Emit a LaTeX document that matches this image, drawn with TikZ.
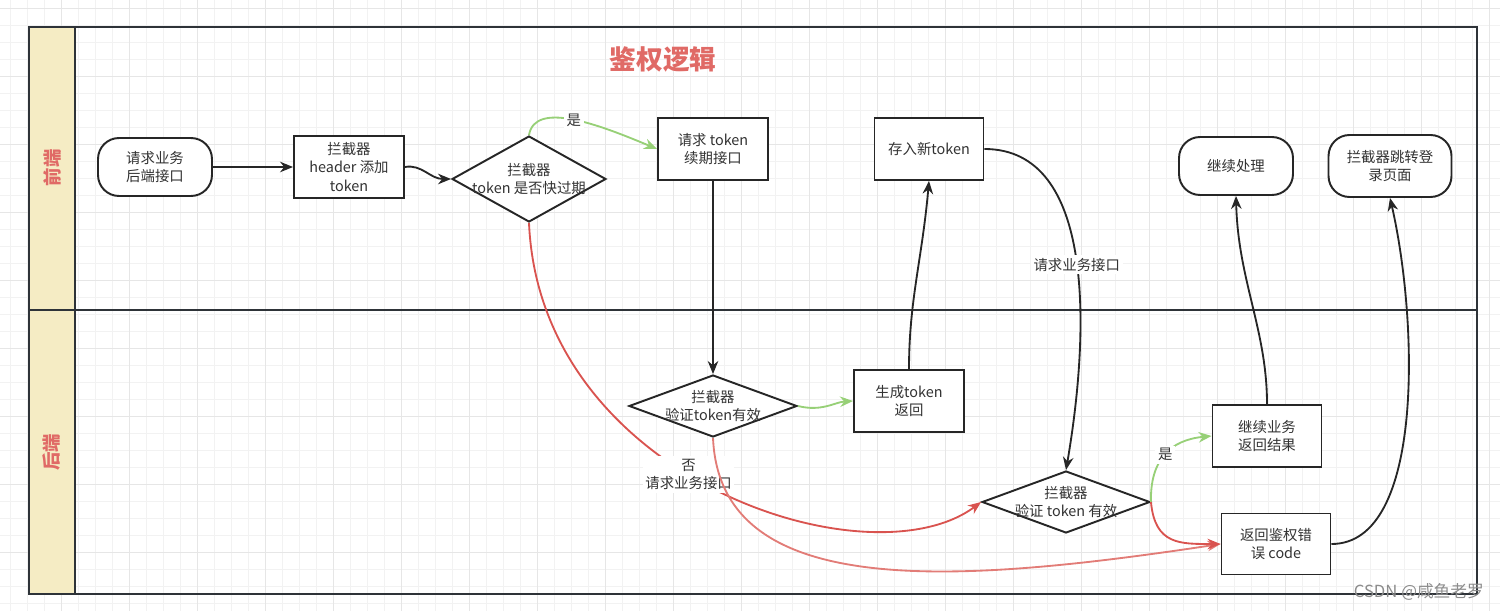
\documentclass[tikz,border=0pt]{standalone}
\usepackage{fontspec}
\setmainfont{Noto Sans CJK SC}
\usetikzlibrary{shapes.geometric,arrows.meta}
\definecolor{gridminor}{HTML}{F2F2F2}
\definecolor{gridmajor}{HTML}{E6E6E6}
\definecolor{laneline}{HTML}{2E3338}
\definecolor{lanefill}{HTML}{F5ECC4}
\definecolor{titlered}{HTML}{E06A66}
\definecolor{okgreen}{HTML}{97D077}
\definecolor{nored}{HTML}{D9534F}
\definecolor{errred}{HTML}{E27C77}
\definecolor{inktext}{HTML}{333333}
\begin{document}
\begin{tikzpicture}[x=0.02cm, y=-0.02cm,
  every node/.style={font=\fontsize{8.2}{10.6}\selectfont, text=inktext},
  procbox/.style={draw=black!85, line width=1.1pt, fill=white, align=center, inner sep=0pt},
  termbox/.style={procbox, rounded corners=0.42cm},
  decision/.style={diamond, draw=black!85, line width=1.1pt, fill=white, inner sep=0pt},
  dtext/.style={align=center, text=inktext},
  flow/.style={line width=1.05pt, draw=black!85, -{Stealth[length=2.6mm,width=2.1mm]}},
  edgelabel/.style={fill=white, inner sep=1.5pt, align=center}]
\useasboundingbox (0,0) rectangle (1500,611);
\foreach \gx in {0,...,88} \draw[gridminor, line width=0.5pt] ({10+17*\gx},0) -- ({10+17*\gx},611);
\foreach \gy in {0,...,35} \draw[gridminor, line width=0.5pt] (0,{8+17*\gy}) -- (1500,{8+17*\gy});
\foreach \gx in {1,...,22} \draw[gridmajor, line width=0.5pt] ({-7+68*\gx},0) -- ({-7+68*\gx},611);
\foreach \gy in {0,...,8} \draw[gridmajor, line width=0.5pt] (0,{8+68*\gy}) -- (1500,{8+68*\gy});

\filldraw[fill=lanefill, draw=laneline, line width=1.1pt] (29,27) rectangle (75,594);
\draw[laneline, line width=1.1pt] (29,27) rectangle (1477,594);
\draw[laneline, line width=1.1pt] (29,310) -- (1477,310);
\node[rotate=90, font=\fontsize{10.5}{12}\selectfont\bfseries, text=titlered] (front) at (52,168) {前端};
\node[rotate=90, font=\fontsize{10.5}{12}\selectfont\bfseries, text=titlered] (back) at (52,452) {后端};
\node[font=\fontsize{15.2}{18}\selectfont\bfseries, text=titlered] (title) at (663,59) {鉴权逻辑};

\node[termbox, minimum width=2.28cm, minimum height=1.16cm] (req) at (155,167) {请求业务\\后端接口};
\node[procbox, minimum width=2.2cm, minimum height=1.24cm] (addhdr) at (349,167) {拦截器\\header 添加\\token};
\node[decision, minimum width=3.08cm, minimum height=1.72cm, label={[dtext]center:{拦截器\\token 是否快过期}}] (chkexp) at (529,179) {};
\node[procbox, minimum width=2.2cm, minimum height=1.24cm] (renew) at (713,149) {请求 token\\续期接口};
\node[procbox, minimum width=2.18cm, minimum height=1.24cm] (store) at (929,149) {存入新token};
\node[termbox, minimum width=2.28cm, minimum height=1.16cm] (cont) at (1236,166) {继续处理};
\node[termbox, minimum width=2.46cm, minimum height=1.24cm] (login) at (1390,166) {拦截器跳转登\\录页面};
\node[decision, minimum width=3.36cm, minimum height=1.24cm, label={[dtext]center:{拦截器\\验证token有效}}] (verify1) at (713,406) {};
\node[procbox, minimum width=2.2cm, minimum height=1.24cm] (gen) at (909,401) {生成token\\返回};
\node[decision, minimum width=3.36cm, minimum height=1.24cm, label={[dtext]center:{拦截器\\验证 token 有效}}] (verify2) at (1066,502) {};
\node[procbox, minimum width=2.18cm, minimum height=1.24cm] (biz) at (1267,436) {继续业务\\返回结果};
\node[procbox, minimum width=2.18cm, minimum height=1.22cm] (err) at (1276,544) {返回鉴权错\\误 code};

\draw[flow] (req.east) -- (addhdr.west);
\draw[flow] (addhdr.east) .. controls (422,164) and (430,179) .. (chkexp.west);
\draw[flow, draw=okgreen, okgreen] (chkexp.north) .. controls (535,100) and (600,125) .. (renew.west) node[edgelabel, pos=0.5] {是};
\draw[flow] (renew.south) -- (verify1.north);
\draw[flow, draw=okgreen, okgreen] (verify1.east) .. controls (822,412) and (835,402) .. (gen.west);
\draw[flow] (gen.north) .. controls (909,300) and (922,260) .. (store.south);
\draw[flow] (store.east) .. controls (1095,149) and (1090,330) .. (verify2.north) node[edgelabel, pos=0.52] {请求业务接口};
\draw[flow, draw=nored, nored] (chkexp.south) .. controls (540,480) and (870,585) .. (verify2.west) node[edgelabel, pos=0.45] {否\\请求业务接口};
\draw[flow, draw=errred, errred] (verify1.south) .. controls (720,600) and (950,585) .. (err.west);
\draw[flow, draw=okgreen, okgreen] (verify2.east) .. controls (1150,460) and (1170,440) .. (biz.west) node[edgelabel, pos=0.5] {是};
\draw[flow, draw=nored, nored] (verify2.east) .. controls (1155,545) and (1180,544) .. (err.west);
\draw[flow] (biz.north) .. controls (1267,330) and (1238,280) .. (cont.south);
\draw[flow] (err.east) .. controls (1425,544) and (1418,320) .. (login.south);

\node[anchor=east, text=black!45, font=\fontsize{9.5}{11}\selectfont] (mark) at (1490,592) {CSDN @咸鱼老罗};
\end{tikzpicture}
\end{document}
